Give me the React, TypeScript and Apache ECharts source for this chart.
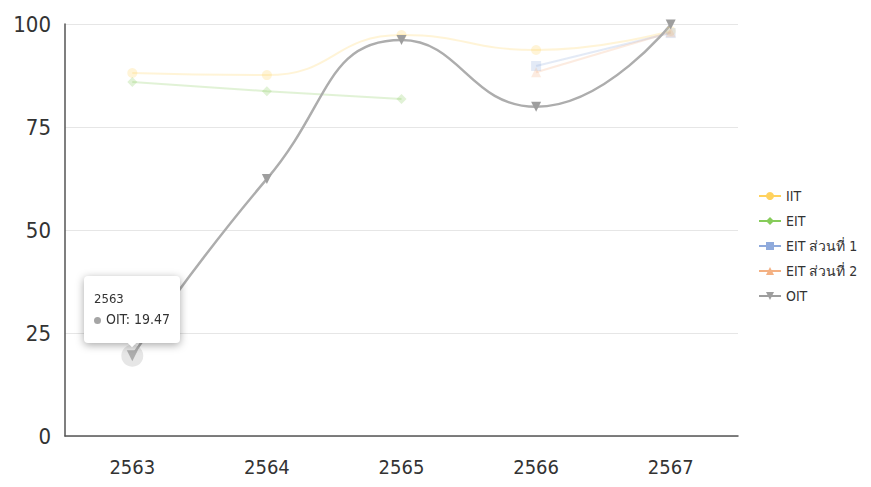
import React, { useEffect, useRef } from "react";
import * as echarts from "echarts";

const categories = ["2563", "2564", "2565", "2566", "2567"];
const iitValues = [88.1, 87.6, 97.3, 93.7, 98.3];
const eitValues = [85.9, 83.7, 81.8, null, null];
const eit1Values = [null, null, null, 89.8, 97.8];
const eit2Values = [null, null, null, 88.3, 98.0];
const oitValues = [19.47, 62.4, 96.1, 79.9, 99.9];
const yTicks = [0, 25, 50, 75, 100];

const FONT = "'DejaVu Sans Condensed', 'Liberation Sans Narrow', 'Liberation Sans', sans-serif";

export default function App() {
  const ref = useRef<HTMLDivElement>(null);
  useEffect(() => {
    document.body.style.margin = "0";
    if (!ref.current) return;
    const chart = echarts.init(ref.current, undefined, { renderer: "svg" });
    const blur = { lineStyle: { opacity: 0.25 }, itemStyle: { opacity: 0.25 } };
    const mk = (name: string, data: any[], color: string, symbol: string, extra: any = {}) => ({
      name,
      type: "line",
      data,
      smooth: true,
      symbol,
      symbolSize: 10,
      color,
      lineStyle: { width: 2, color },
      itemStyle: { color },
      emphasis: { focus: "series" },
      blur,
      ...extra,
    });
    chart.setOption({
      animation: false,
      textStyle: { fontFamily: FONT },
      grid: { left: 65, right: 133, top: 24, bottom: 51 },
      tooltip: {
        trigger: "item",
        position: "top",
        backgroundColor: "#fff",
        borderWidth: 0,
        padding: [13, 10, 14, 10],
        extraCssText: "box-shadow: 0 2px 8px rgba(0,0,0,0.35); border-radius: 4px;",
        formatter: (p: any) =>
          `<div style="font-family:${FONT.replace(/'/g, "")};color:#333;line-height:20px">` +
          `<div style="font-size:13px">${p.name}</div>` +
          `<div style="font-size:14px"><span style="display:inline-block;width:7px;height:7px;border-radius:50%;background:#a5a5a5;margin-right:5px;vertical-align:middle"></span>${p.seriesName}: ${p.value}</div></div>`,
      },
      legend: {
        orient: "vertical",
        left: 753,
        top: 184,
        itemGap: 11,
        itemWidth: 22,
        itemHeight: 10,
        textStyle: { fontSize: 14, color: "#333", fontFamily: FONT },
        data: ["IIT", "EIT", "EIT ส่วนที่ 1", "EIT ส่วนที่ 2", "OIT"],
      },
      xAxis: {
        type: "category",
        data: categories,
        boundaryGap: true,
        axisLine: { lineStyle: { color: "#555", width: 1.5 } },
        axisTick: { show: false },
        axisLabel: { fontSize: 20, color: "#333", margin: 21, fontFamily: FONT },
      },
      yAxis: {
        type: "value",
        min: yTicks[0],
        max: yTicks[yTicks.length - 1],
        interval: 25,
        axisLine: { show: true, lineStyle: { color: "#555", width: 1.5 } },
        axisTick: { show: false },
        axisLabel: { fontSize: 22, color: "#333", margin: 14, fontFamily: FONT },
        splitLine: { lineStyle: { color: "#e6e6e6" } },
      },
      series: [
        mk("IIT", iitValues, "#ffd25e", "circle"),
        mk("EIT", eitValues, "#86cc5a", "diamond", { smooth: false }),
        mk("EIT ส่วนที่ 1", eit1Values, "#8faadc", "rect", { smooth: false }),
        mk("EIT ส่วนที่ 2", eit2Values, "#f4b183", "triangle", { smooth: false }),
        {
          name: "halo",
          type: "scatter",
          data: [oitValues[0], null, null, null, null],
          symbol: "circle",
          symbolSize: 22,
          itemStyle: { color: "#e6e6e6" },
          silent: true,
          tooltip: { show: false },
          z: 1,
          blur: { itemStyle: { opacity: 1 } },
        },
        mk("OIT", oitValues, "#9e9e9e", "triangle", {
          symbolRotate: 180,
          lineStyle: { width: 2.5, color: "#9e9e9e" },
          emphasis: { focus: "series", scale: 1.1, lineStyle: { width: 2.5 } },
          z: 3,
        }),
      ],
    });
    chart.dispatchAction({ type: "highlight", seriesIndex: 5, dataIndex: 0 });
    chart.dispatchAction({ type: "showTip", seriesIndex: 5, dataIndex: 0 });
    return () => chart.dispose();
  }, []);
  return <div ref={ref} style={{ width: 871, height: 487 }} />;
}
